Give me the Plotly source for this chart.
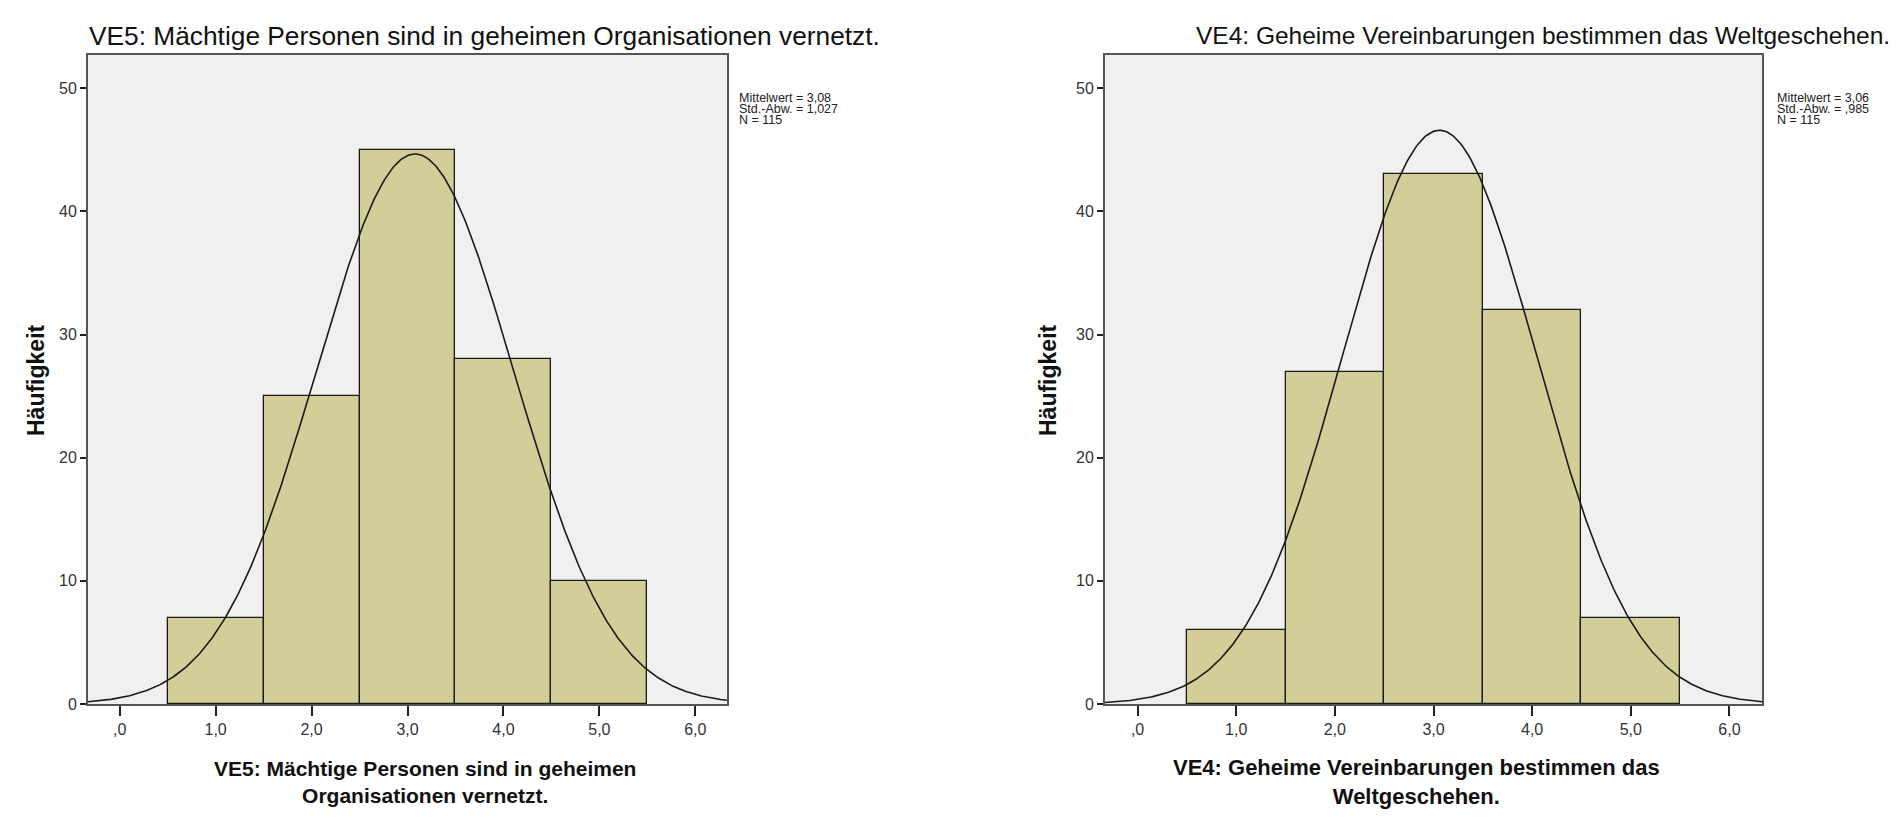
import numpy as np
import plotly.graph_objects as go

# ---- data ----
bin_centers = [1, 2, 3, 4, 5]
ve5_counts = [7, 25, 45, 28, 10]
ve4_counts = [6, 27, 43, 32, 7]
ve5_title = "VE5: Mächtige Personen sind in geheimen Organisationen vernetzt."
ve4_title = "VE4: Geheime Vereinbarungen bestimmen das Weltgeschehen."
ve5_xlabel = "VE5: Mächtige Personen sind in geheimen<br>Organisationen vernetzt."
ve4_xlabel = "VE4: Geheime Vereinbarungen bestimmen das<br>Weltgeschehen."
ve5_stats = ["Mittelwert = 3,08", "Std.-Abw. = 1,027", "N = 115"]
ve4_stats = ["Mittelwert = 3,06", "Std.-Abw. = ,985", "N = 115"]
x_tickvals = [0, 1, 2, 3, 4, 5, 6]
x_ticktext = [",0", "1,0", "2,0", "3,0", "4,0", "5,0", "6,0"]
y_tickvals = [0, 10, 20, 30, 40, 50]

FONT = "Liberation Sans, Arial, sans-serif"
BAR_COLOR = "#D3CE98"
BG = "#F0F0F0"
FRAME = "#555555"
W, H = 1898, 817


def stats(counts):
    x = np.repeat(bin_centers, counts)
    return x.mean(), x.std(ddof=1), len(x)


fig = go.Figure()

panels = [
    (ve5_counts, "x", "y", [88 / W, 727 / W]),
    (ve4_counts, "x2", "y2", [1105 / W, 1762 / W]),
]
xr = [-0.33, 6.33]
yr = [0, 52.7]
for counts, xa, ya, dom in panels:
    fig.add_trace(go.Bar(x=bin_centers, y=counts, width=1, xaxis=xa, yaxis=ya,
                         marker=dict(color=BAR_COLOR, line=dict(color="#1a1a1a", width=1.3)),
                         showlegend=False, hoverinfo="skip"))
    m, s, n = stats(counts)
    xs = np.linspace(xr[0], xr[1], 400)
    ys = n * 1.0 * np.exp(-0.5 * ((xs - m) / s) ** 2) / (s * np.sqrt(2 * np.pi))
    fig.add_trace(go.Scatter(x=xs, y=ys, mode="lines", xaxis=xa, yaxis=ya,
                             line=dict(color="#1a1a1a", width=1.6),
                             showlegend=False, hoverinfo="skip"))

ydom = [1 - 704 / H, 1 - 55 / H]
axis_common = dict(showline=True, mirror=True, linecolor=FRAME, linewidth=2,
                   showgrid=False, zeroline=False, ticks="outside", automargin=False,
                   tickcolor="#222", tickfont=dict(family=FONT, size=16, color="#333"))

fig.update_layout(
    width=W, height=H, autosize=False,
    margin=dict(l=0, r=0, t=0, b=0, pad=0),
    paper_bgcolor="white", plot_bgcolor=BG,
    bargap=0,
    font=dict(family=FONT),
    xaxis=dict(domain=panels[0][3], range=xr, tickvals=x_tickvals, ticktext=x_ticktext,
               ticklen=10, tickwidth=2, anchor="y", **axis_common),
    yaxis=dict(domain=ydom, range=yr, tickvals=y_tickvals, ticklen=6, tickwidth=2,
               anchor="x", **axis_common),
    xaxis2=dict(domain=panels[1][3], range=xr, tickvals=x_tickvals, ticktext=x_ticktext,
                ticklen=10, tickwidth=2, anchor="y2", **axis_common),
    yaxis2=dict(domain=ydom, range=yr, tickvals=y_tickvals, ticklen=6, tickwidth=2,
                anchor="x2", **axis_common),
)

# titles
for txt, xc, size in [(ve5_title, 484 / W, 26.3), (ve4_title, 1543 / W, 24.5)]:
    fig.add_annotation(text=txt, x=xc, y=1 - 36 / H, xref="paper", yref="paper",
                       showarrow=False, xanchor="center", yanchor="middle",
                       font=dict(family=FONT, size=size, color="#111"))

# x axis titles
for txt, xc, size in [(ve5_xlabel, 425 / W, 21), (ve4_xlabel, 1416 / W, 22)]:
    fig.add_annotation(text="<b>" + txt + "</b>", x=xc, y=1 - 782 / H, xref="paper", yref="paper",
                       showarrow=False, xanchor="center", yanchor="middle",
                       font=dict(family=FONT, size=size, color="#111"))

# y axis titles
for xc in [36 / W, 1048 / W]:
    fig.add_annotation(text="<b>Häufigkeit</b>", x=xc, y=1 - 380 / H, xref="paper", yref="paper",
                       showarrow=False, textangle=-90, xanchor="center", yanchor="middle",
                       font=dict(family=FONT, size=23, color="#111"))

# statistics boxes (tight line spacing)
for lines, xl in [(ve5_stats, 737 / W), (ve4_stats, 1775 / W)]:
    for i, line in enumerate(lines):
        fig.add_annotation(text=line, x=xl, y=1 - (98 + 11 * i) / H, xref="paper", yref="paper",
                           showarrow=False, xanchor="left", yanchor="middle", align="left",
                           font=dict(family=FONT, size=12.5, color="#222"))

fig.write_html("out.html", config={"displayModeBar": False},
               post_script="document.body.style.margin='0';document.body.style.overflow='hidden';")
